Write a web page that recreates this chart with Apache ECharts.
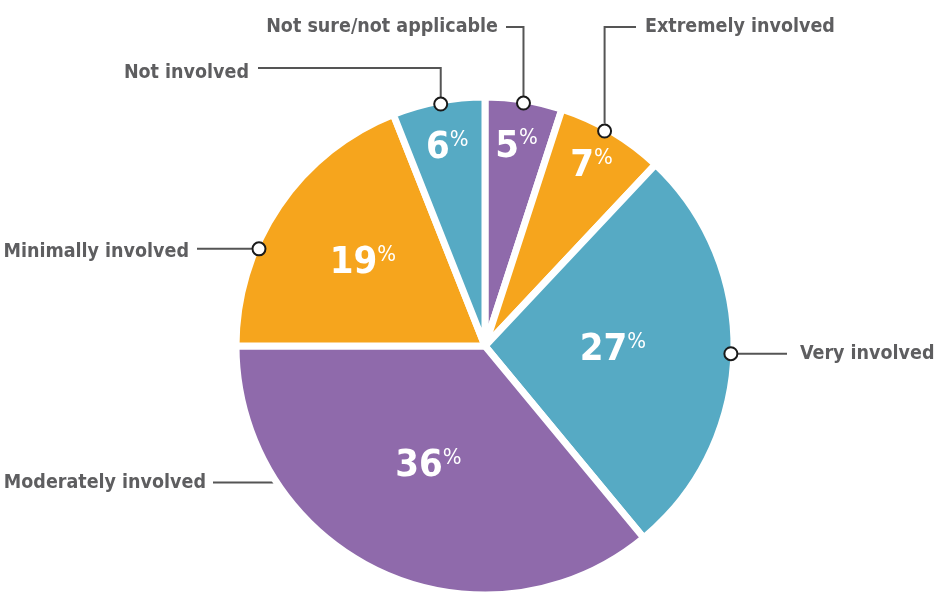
<!DOCTYPE html>
<html>
<head>
<meta charset="utf-8">
<script src="https://cdn.jsdelivr.net/npm/echarts@6/dist/echarts.min.js"></script>
<style>
  html, body { margin: 0; padding: 0; background: #fff; }
  #chart { width: 946px; height: 593px; }
</style>
</head>
<body>
<div id="chart"></div>
<script>
  // data, clockwise from 12 o'clock
  var categories = ['Not sure/not applicable', 'Extremely involved', 'Very involved',
    'Moderately involved', 'Minimally involved', 'Not involved'];
  var shares = [5, 7, 27, 36, 19, 6];

  var colors = ['#8f6aab', '#f6a51d', '#56aac4', '#8f6aab', '#f6a51d', '#56aac4'];
  var textColor = '#5e5e60';
  var font = '"Liberation Sans Narrow", "DejaVu Sans Condensed", "Arial Narrow", sans-serif';
  var cx = 485, cy = 346, R = 246;

  // how far out the % label sits (share of radius)
  var innerDist = [0.82, 0.85, 0.52, 0.54, 0.6, 0.82];
  // where the leader line meets the rim (share of the slice sweep)
  var anchorAt = [0.5, 0.44, 0.5, 0.74, 0.34, 0.52];
  var showDot = [true, true, true, false, true, true];
  // text spot and bend of each leader line
  var spots = [
    {x: 498, y: 27, align: 'right', lineX: 506, lineY: 27},
    {x: 645, y: 27, align: 'left', lineX: 636, lineY: 27},
    {x: 800, y: 354, align: 'left', lineX: 787},
    {x: 206, y: 483, align: 'right', lineX: 213},
    {x: 189, y: 252, align: 'right', lineX: 197},
    {x: 249, y: 73, align: 'right', lineX: 258, lineY: 68}
  ];

  var total = shares.reduce(function (a, b) { return a + b; }, 0);
  var starts = [];
  var acc = 0;
  shares.forEach(function (v) { starts.push(acc); acc += v; });

  function angleVal(i, f) {
    return (starts[i] + shares[i] * f) / total * 100;
  }
  function pointAt(i, f, r) {
    var a = angleVal(i, f) / 100 * 2 * Math.PI;
    return [cx + r * Math.sin(a), cy - r * Math.cos(a)];
  }

  var pieData = categories.map(function (c, i) {
    return {name: c, value: shares[i], itemStyle: {color: colors[i]}};
  });
  var labelData = categories.map(function (c, i) {
    return {name: c, value: shares[i]};
  });
  var dotData = [];
  categories.forEach(function (c, i) {
    if (showDot[i]) dotData.push([1, angleVal(i, anchorAt[i])]);
  });

  var chart = echarts.init(document.getElementById('chart'));
  chart.setOption({
    animation: false,
    polar: {center: [cx, cy], radius: R},
    angleAxis: {type: 'value', min: 0, max: 100, startAngle: 90, clockwise: true, show: false},
    radiusAxis: {type: 'value', min: 0, max: 1, show: false},
    series: [
      {
        type: 'pie',
        center: [cx, cy],
        radius: R + 3,
        startAngle: 90,
        clockwise: true,
        silent: true,
        avoidLabelOverlap: false,
        data: pieData,
        itemStyle: {borderColor: '#fff', borderWidth: 7},
        label: {
          position: 'inside',
          formatter: function (p) { return '{n|' + p.value + '}{p|%}'; },
          rich: {
            n: {fontFamily: font, fontSize: 38, fontWeight: 'bold', color: '#fff'},
            p: {fontFamily: font, fontSize: 22, color: '#fff', verticalAlign: 'top'}
          }
        },
        labelLine: {show: false},
        labelLayout: function (p) {
          var pt = pointAt(p.dataIndex, 0.5, R * innerDist[p.dataIndex]);
          return {x: pt[0], y: pt[1], align: 'center', verticalAlign: 'middle'};
        }
      },
      {
        type: 'pie',
        center: [cx, cy],
        radius: R + 3,
        startAngle: 90,
        clockwise: true,
        silent: true,
        avoidLabelOverlap: false,
        data: labelData,
        itemStyle: {color: 'rgba(0,0,0,0)', borderWidth: 0},
        label: {
          position: 'outside',
          formatter: '{b}',
          fontFamily: font,
          fontSize: 19.5,
          fontWeight: 'bold',
          color: textColor
        },
        labelLine: {show: true, lineStyle: {color: '#555', width: 2}},
        labelLayout: function (p) {
          var i = p.dataIndex;
          var s = spots[i];
          var a = pointAt(i, anchorAt[i], R);
          var pts = s.lineY != null
            ? [a, [a[0], s.lineY], [s.lineX, s.lineY]]
            : [a, [s.lineX, a[1]]];
          return {x: s.x, y: s.y, align: s.align, verticalAlign: 'middle', labelLinePoints: pts};
        }
      },
      {
        type: 'scatter',
        coordinateSystem: 'polar',
        silent: true,
        symbol: 'circle',
        symbolSize: 13,
        itemStyle: {color: '#fff', borderColor: '#1a1a1a', borderWidth: 2, opacity: 1},
        z: 5,
        data: dotData
      }
    ]
  });
</script>
</body>
</html>
